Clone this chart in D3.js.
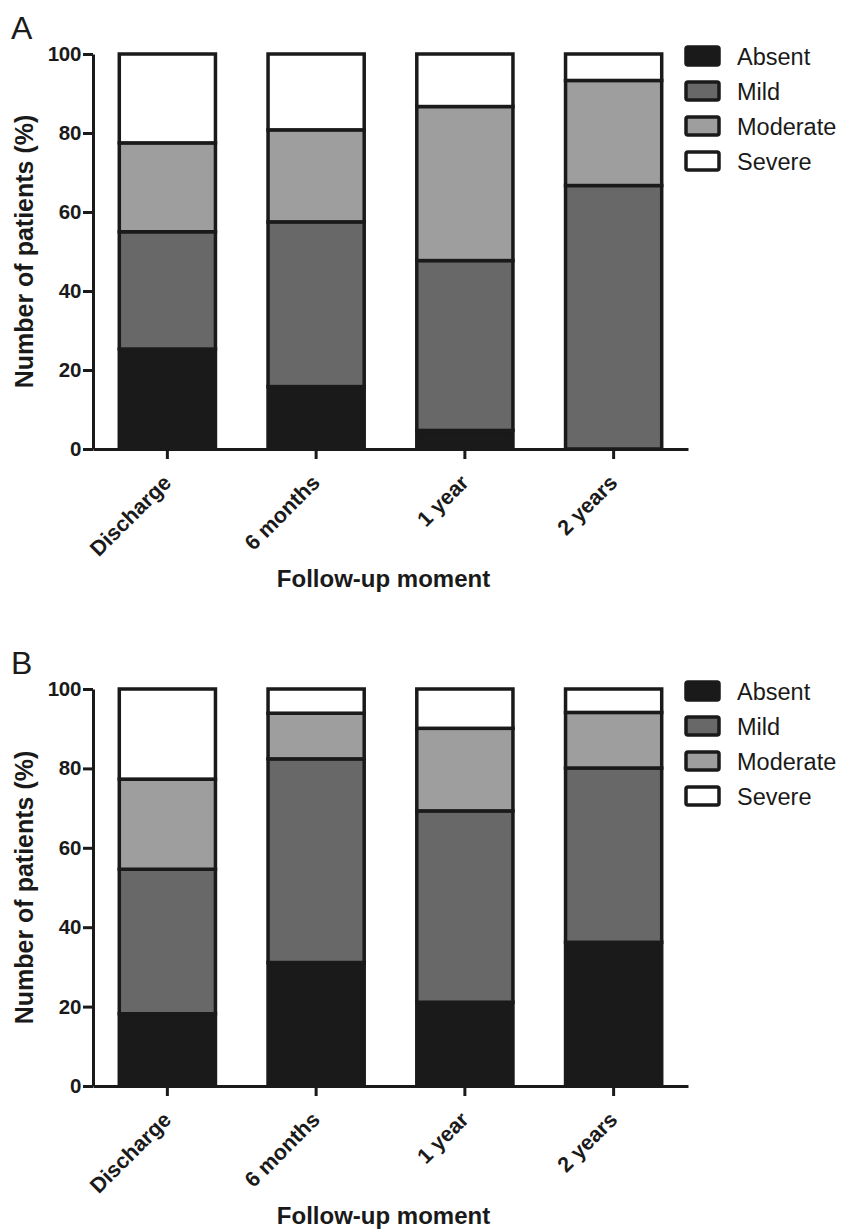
<!DOCTYPE html>
<html>
<head>
<meta charset="utf-8">
<script src="https://cdn.jsdelivr.net/npm/d3@7"></script>
<style>
  body { margin: 0; background: #fff; }
  text { font-family: "Liberation Sans", Arial, sans-serif; fill: #1a1a1a; }
</style>
</head>
<body>
<svg width="843" height="1229"></svg>
<script>
const categories = ["Discharge", "6 months", "1 year", "2 years"];
const levels = ["Absent", "Mild", "Moderate", "Severe"];
const yTicks = [0, 20, 40, 60, 80, 100];

// panel A, % of patients per level
const aAbsent = [25.3, 15.8, 4.7, 0];
const aMild = [29.7, 41.7, 43.0, 66.7];
const aModerate = [22.5, 23.3, 39.0, 26.6];
const aSevere = [22.5, 19.2, 13.3, 6.7];

// panel B
const bAbsent = [18.2, 31.1, 21.1, 36.2];
const bMild = [36.4, 51.3, 48.2, 43.9];
const bModerate = [22.7, 11.5, 20.8, 14.0];
const bSevere = [22.7, 6.1, 9.9, 5.9];

const colors = ["#1a1a1a", "#686868", "#9e9e9e", "#ffffff"];
const ink = "#1a1a1a";

const svg = d3.select("svg");

const xScale = d3
  .scaleBand()
  .domain(categories)
  .range([93, 688])
  .paddingInner(0.33)
  .paddingOuter(0.165);

const color = d3.scaleOrdinal().domain(levels).range(colors);

function toRows(absent, mild, moderate, severe) {
  return categories.map((c, i) => ({
    cat: c,
    Absent: absent[i],
    Mild: mild[i],
    Moderate: moderate[i],
    Severe: severe[i],
  }));
}

function drawPanel(rows, label, y0, y100) {
  const yScale = d3.scaleLinear().domain([0, 100]).range([y0, y100]);
  const g = svg.append("g");

  const stacked = d3.stack().keys(levels)(rows);

  g.selectAll("g.layer")
    .data(stacked)
    .enter()
    .append("g")
    .attr("class", "layer")
    .attr("fill", (d) => color(d.key))
    .selectAll("rect")
    .data((d) => d)
    .enter()
    .append("rect")
    .attr("x", (d) => xScale(d.data.cat) + 1.75)
    .attr("width", xScale.bandwidth() - 3.5)
    .attr("y", (d) => yScale(d[1]))
    .attr("height", (d) => yScale(d[0]) - yScale(d[1]))
    .attr("stroke", ink)
    .attr("stroke-width", 3.5)
    .attr("stroke-opacity", (d) => (d[1] - d[0] > 0 ? 1 : 0));

  // y axis
  const yAxis = g
    .append("g")
    .attr("transform", "translate(93,0)")
    .call(d3.axisLeft(yScale).tickValues(yTicks).tickSize(10).tickPadding(2).tickSizeOuter(0));
  yAxis.select(".domain").attr("stroke", ink).attr("stroke-width", 3);
  yAxis.selectAll(".tick line").attr("stroke", ink).attr("stroke-width", 3);
  yAxis
    .selectAll(".tick text")
    .attr("font-size", 20.5)
    .attr("font-weight", "bold")
    .attr("letter-spacing", -0.3)
    .attr("fill", ink);

  // x axis
  const xAxis = g
    .append("g")
    .attr("transform", `translate(0,${y0})`)
    .call(d3.axisBottom(xScale).tickSize(10).tickSizeOuter(0).tickFormat(""));
  xAxis.select(".domain").attr("stroke", ink).attr("stroke-width", 3);
  xAxis.selectAll(".tick line").attr("stroke", ink).attr("stroke-width", 3);

  g.selectAll("text.xlab")
    .data(categories)
    .enter()
    .append("text")
    .attr("class", "xlab")
    .attr("transform", (d) => `translate(${xScale(d) + xScale.bandwidth() / 2 + 5},${y0 + 35}) rotate(-45)`)
    .attr("text-anchor", "end")
    .attr("font-size", 21.5)
    .attr("font-weight", "bold")
    .text((d) => d);

  g.append("text")
    .attr("x", 383.5)
    .attr("y", y0 + 138)
    .attr("text-anchor", "middle")
    .attr("font-size", 24)
    .attr("font-weight", "bold")
    .text("Follow-up moment");

  g.append("text")
    .attr("transform", `translate(33,${(y0 + y100) / 2}) rotate(-90)`)
    .attr("text-anchor", "middle")
    .attr("font-size", 25)
    .attr("font-weight", "bold")
    .text("Number of patients (%)");

  g.append("text")
    .attr("x", 11)
    .attr("y", y100 - 15)
    .attr("font-size", 32)
    .text(label);

  // legend
  const legend = g
    .selectAll("g.legend")
    .data(levels)
    .enter()
    .append("g")
    .attr("class", "legend")
    .attr("transform", (d, i) => `translate(686,${y100 - 7 + i * 35})`);
  legend
    .append("rect")
    .attr("width", 33)
    .attr("height", 18)
    .attr("rx", 2)
    .attr("fill", (d) => color(d))
    .attr("stroke", ink)
    .attr("stroke-width", 3.5);
  legend
    .append("text")
    .attr("x", 51)
    .attr("y", 18)
    .attr("font-size", 23.5)
    .text((d) => d);
}

drawPanel(toRows(aAbsent, aMild, aModerate, aSevere), "A", 449, 54);
drawPanel(toRows(bAbsent, bMild, bModerate, bSevere), "B", 1086, 689);
</script>
</body>
</html>
